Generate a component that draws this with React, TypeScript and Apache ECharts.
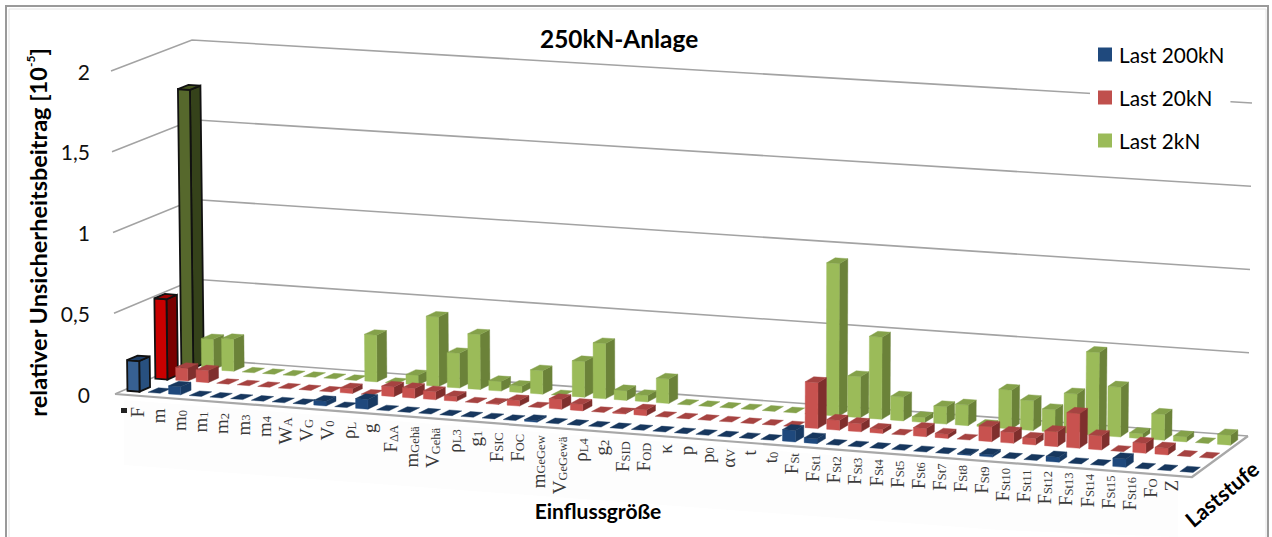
import React, { useEffect, useRef } from "react";
import * as echarts from "echarts";

const categories = [
  "F", "m", "m_0", "m_1", "m_2", "m_3", "m_4", "W_A", "V_G", "V_0", "ρ_L", "g", "F_ΔA", "m_Gehä", "V_Gehä", "ρ_L3", "g_1",
  "F_SIC", "F_OC", "m_GeGew", "V_GeGewä", "ρ_L4", "g_2", "F_SID", "F_OD", "κ", "p", "p_0", "α_V", "t", "t_0", "F_St",
  "F_St1", "F_St2", "F_St3", "F_St4", "F_St5", "F_St6", "F_St7", "F_St8", "F_St9", "F_St10", "F_St11", "F_St12", "F_St13",
  "F_St14", "F_St15", "F_St16", "F_O", "Z",
];
const last200kN = [
  0.19, 0, 0.05, 0, 0, 0, 0, 0, 0, 0.03, 0, 0.06, 0, 0, 0, 0, 0, 0, 0, 0.01, 0, 0, 0, 0, 0, 0, 0, 0, 0, 0, 0, 0.07,
  0.03, 0, 0, 0, 0, 0, 0, 0.005, 0.015, 0, 0, 0.03, 0, 0, 0.05, 0, 0, 0,
];
const last20kN = [
  0.5, 0.08, 0.075, 0, 0, 0, 0, 0, 0, 0.03, 0, 0.06, 0.06, 0.05, 0.03, 0, 0.005, 0.035, 0, 0.06, 0.04, 0, 0.005, 0.035, 0, 0, 0, 0, 0, 0, 0, 0.28,
  0.06, 0.05, 0.025, 0, 0.05, 0.025, 0, 0.09, 0.065, 0.04, 0.09, 0.21, 0.085, 0, 0.06, 0.04, 0, 0,
];
const last2kN = [
  1.74, 0.19, 0.2, 0, 0, 0, 0, 0, 0, 0.29, 0, 0.06, 0.43, 0.215, 0.34, 0.06, 0.04, 0.145, 0, 0.22, 0.34, 0.06, 0.04, 0.15, 0, 0, 0, 0, 0, 0, 0, 0.93,
  0.25, 0.5, 0.145, 0.03, 0.105, 0.125, 0.01, 0.235, 0.18, 0.135, 0.24, 0.5, 0.3, 0.03, 0.155, 0.03, 0, 0.06,
];
const yTicks = [0, 0.5, 1, 1.5, 2];
const Y_MAX = 2;

const GRID = { left: 115, top: 71, width: 1077, height: 323 };
const FL = { x: 115, y: 394, s: 161.5, lean: -2 };
const FR = { x: 1192, y: 477, s: 166, lean: 2 };
const BL = { x: 196, y: 359, s: 159.5, lean: -2 };
const BR = { x: 1248, y: 436, s: 166.5, lean: 2 };
const WARP = -0.045;
const BAR_U = 0.0118;
const BAR_V = 0.13;

const mix = (a: number, b: number, t: number) => a + (b - a) * t;
function project(u: number, v: number, h: number): number[] {
  const w = u + WARP * u * (1 - u);
  const at = (k: "x" | "y" | "s" | "lean") => mix(mix(FL[k], FR[k], w), mix(BL[k], BR[k], w), v);
  return [at("x") + at("lean") * h, at("y") - at("s") * h];
}

type Faces = { front: string; side: string; top: string; stroke?: string };
const polygon = (points: number[][], fill: string, stroke?: string) => ({
  type: "polygon",
  shape: { points },
  style: { fill, stroke: stroke || fill, lineWidth: stroke ? 1.8 : 0.4 },
  silent: true,
});

const barRenderer = (rowV: number, faces: Faces, first: Faces) => (params: any, api: any) => {
  const i = api.value(0);
  const value = api.value(1);
  const base = api.coord([i, 0]);
  const tip = api.coord([i, value]);
  const u = (base[0] - GRID.left) / GRID.width;
  const h = ((base[1] - tip[1]) / GRID.height) * Y_MAX;
  const c = i === 0 ? first : faces;
  const u0 = u - BAR_U / 2, u1 = u + BAR_U / 2, v0 = rowV - BAR_V / 2, v1 = rowV + BAR_V / 2;
  const children: any[] = [];
  if (h > 0) {
    children.push(polygon([project(u1, v0, 0), project(u1, v1, 0), project(u1, v1, h), project(u1, v0, h)], c.side, c.stroke));
    children.push(polygon([project(u0, v0, 0), project(u1, v0, 0), project(u1, v0, h), project(u0, v0, h)], c.front, c.stroke));
  }
  children.push(polygon([project(u0, v0, h), project(u1, v0, h), project(u1, v1, h), project(u0, v1, h)], c.top, c.stroke));
  return { type: "group", children };
};

const frameRenderer = (params: any, api: any) => {
  const level = api.value(0);
  const h = ((GRID.top + GRID.height - api.coord([0, level])[1]) / GRID.height) * Y_MAX;
  const children: any[] = [
    {
      type: "polyline",
      shape: { points: [project(0, 0, h), project(0, 1, h), project(1, 1, h)] },
      style: { stroke: "#a3a3a3", lineWidth: 1.6, fill: "none" },
      silent: true,
    },
  ];
  if (level === 0) {
    children.push({
      type: "polyline",
      shape: { points: [project(0, 0, 0), project(1, 0, 0), project(1, 1, 0)] },
      style: { stroke: "#a8a8a8", lineWidth: 2.2, fill: "none" },
      silent: true,
    });
  }
  return { type: "group", children };
};

const labelRenderer = (params: any, api: any) => {
  const i = api.value(0);
  const [name, sub] = categories[i].split("_");
  const base = api.coord([i, 0]);
  const u = (base[0] - GRID.left) / GRID.width;
  const x = 126.5 + u * 1055;
  const y = 407 + 0.0706 * (x - 137);
  return {
    type: "text",
    x,
    y,
    rotation: Math.PI / 2,
    silent: true,
    style: {
      text: sub ? `{a|${name}}{b|${sub}}` : `{a|${name}}`,
      align: "right",
      verticalAlign: "middle",
      rich: {
        a: { fontFamily: "Liberation Serif", fontSize: 19, fill: "#3a3a3a", verticalAlign: "bottom", lineHeight: 20 },
        b: { fontFamily: "Liberation Serif", fontSize: 12.5, fill: "#3a3a3a", verticalAlign: "bottom", lineHeight: 20 },
      },
    },
  };
};

const rows = (values: number[]) => values.map((v, i) => [i, v]);

export default function App() {
  const ref = useRef<HTMLDivElement>(null);
  useEffect(() => {
    const chart = echarts.init(ref.current!, null, { renderer: "svg" });
    chart.setOption({
      animation: false,
      backgroundColor: "#fff",
      title: {
        text: "250kN-Anlage",
        left: 540,
        top: 26,
        padding: 0,
        textStyle: { fontFamily: "Lato", fontWeight: "bold", fontSize: 24.4, color: "#000" },
      },
      legend: {
        orient: "vertical",
        left: 1090,
        top: 36,
        padding: [8, 6, 8, 8],
        itemGap: 22,
        itemWidth: 14,
        itemHeight: 14,
        selectedMode: false,
        backgroundColor: "#fff",
        textStyle: { fontFamily: "Lato", fontSize: 20.8, color: "#000", padding: [0, 0, 0, 2] },
        data: [
          { name: "Last 200kN", icon: "rect" },
          { name: "Last 20kN", icon: "rect" },
          { name: "Last 2kN", icon: "rect" },
        ],
      },
      grid: GRID,
      xAxis: { type: "category", data: categories, show: false },
      yAxis: {
        type: "value",
        min: 0,
        max: Y_MAX,
        interval: 0.5,
        splitLine: { show: false },
        axisLine: { show: false },
        axisTick: { show: false },
        axisLabel: {
          margin: 25,
          padding: [3, 0, 0, 0],
          fontFamily: "Lato",
          fontSize: 21,
          color: "#111",
          formatter: (v: number) => String(v).replace(".", ","),
        },
        name: "{b|relativer Unsicherheitsbeitrag [10}{s|-5}{b|]}",
        nameLocation: "middle",
        nameRotate: 90,
        nameGap: 63,
        nameTextStyle: {
          rich: {
            b: { fontFamily: "Lato", fontWeight: "bold", fontSize: 23.5, color: "#000", verticalAlign: "bottom", lineHeight: 25 },
            s: { fontFamily: "Lato", fontWeight: "bold", fontSize: 12, color: "#000", verticalAlign: "top", lineHeight: 25 },
          },
        },
      },
      graphic: [
        { type: "polygon", z: -1, silent: true, shape: { points: [[124, 400], [1178, 482], [1178, 537], [1000, 530], [124, 465]] }, style: { fill: "#fdfdfd" } },
        { type: "rect", z: 0, silent: true, shape: { x: 6, y: 6, width: 1262, height: 540 }, style: { fill: "none", stroke: "#9a9a9a", lineWidth: 2 } },
        { type: "rect", z: 0, silent: true, shape: { x: 9, y: 9, width: 1257, height: 540 }, style: { fill: "none", stroke: "#e4e4e4", lineWidth: 1 } },
        { type: "rect", z: 5, silent: true, shape: { x: 121, y: 408, width: 6, height: 5 }, style: { fill: "#222" } },
        { type: "text", z: 5, x: 598, y: 510, silent: true, style: { text: "Einflussgröße", fontFamily: "Lato", fontWeight: "bold", fontSize: 21, fill: "#000", align: "center", verticalAlign: "middle" } },
        { type: "text", z: 5, x: 1222, y: 494, rotation: (40 * Math.PI) / 180, silent: true, style: { text: "Laststufe", fontFamily: "Lato", fontWeight: "bold", fontSize: 21.5, fill: "#000", align: "center", verticalAlign: "middle" } },
      ],
      series: [
        { type: "custom", name: "frame", renderItem: frameRenderer, data: yTicks.map((t) => [t]), encode: { y: 0 }, clip: false, silent: true, z: 1 },
        {
          type: "custom",
          name: "Last 2kN",
          itemStyle: { color: "#9bbb59" },
          renderItem: barRenderer(5 / 6, { front: "#9bbb59", side: "#6b8239", top: "#84a14a" }, { front: "#56682c", side: "#35421a", top: "#46551f", stroke: "#111" }),
          data: rows(last2kN),
          encode: { x: 0, y: 1 },
          clip: false,
          silent: true,
        },
        {
          type: "custom",
          name: "Last 20kN",
          itemStyle: { color: "#c0504d" },
          renderItem: barRenderer(1 / 2 + 0.012, { front: "#c8524f", side: "#7f2f2d", top: "#a64341" }, { front: "#c80000", side: "#7a0000", top: "#a00000", stroke: "#111" }),
          data: rows(last20kN),
          encode: { x: 0, y: 1 },
          clip: false,
          silent: true,
        },
        {
          type: "custom",
          name: "Last 200kN",
          itemStyle: { color: "#1f497d" },
          renderItem: barRenderer(1 / 6, { front: "#1f497d", side: "#183a63", top: "#17375e" }, { front: "#376092", side: "#28507f", top: "#1f3f68", stroke: "#111" }),
          data: rows(last200kN),
          encode: { x: 0, y: 1 },
          clip: false,
          silent: true,
        },
        { type: "custom", name: "labels", renderItem: labelRenderer, data: rows(last200kN), encode: { x: 0, y: 1 }, clip: false, silent: true, z: 3 },
      ],
    });
    return () => chart.dispose();
  }, []);
  return <div ref={ref} style={{ position: "absolute", left: 0, top: 0, width: 1272, height: 537 }} />;
}
